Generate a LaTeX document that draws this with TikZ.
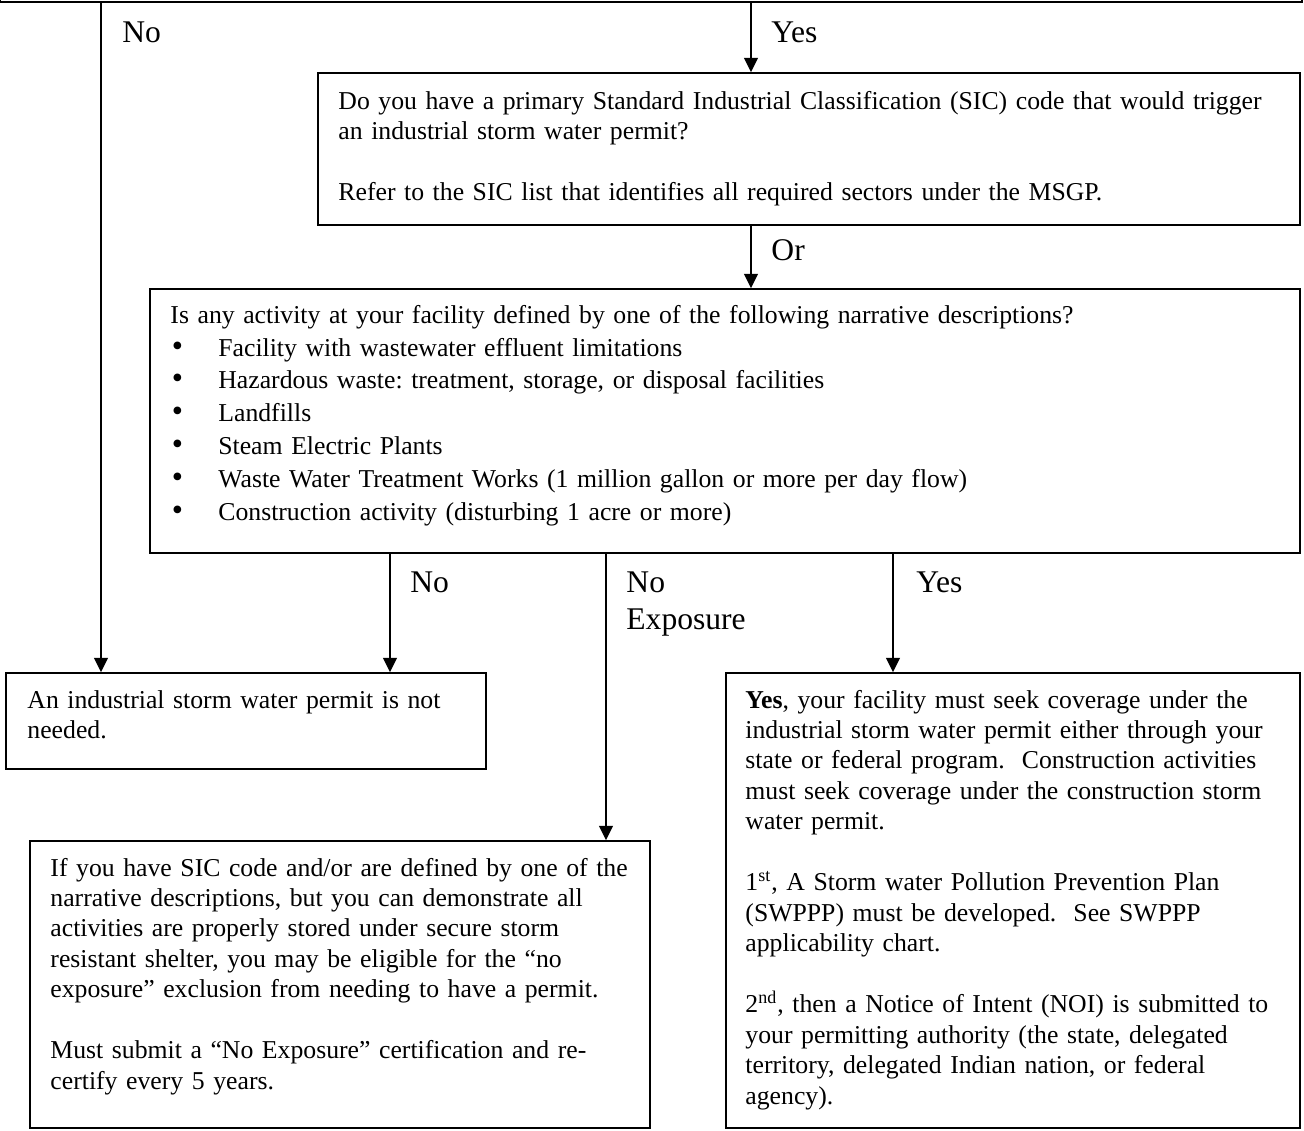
\documentclass[tikz,border=0pt]{standalone}
\usepackage{fontspec}
\setmainfont{Liberation Serif}
\usetikzlibrary{arrows.meta,fit}
\newcommand{\bul}{\makebox[21.7pt][l]{\hspace{0.6pt}{\fontsize{14.5}{14.94}\selectfont •}}}
\frenchspacing
\begin{document}
\begin{tikzpicture}[x=0.4528pt,y=-0.4528pt,
  box/.style={draw,line width=0.75pt,inner sep=0pt},
  arr/.style={-{Triangle[length=6.5pt,width=6.3pt]},line width=0.75pt},
  txt/.style={anchor=base west,inner sep=0pt,text width=600pt,align=left,
    font=\fontsize{11.65}{13.8}\selectfont\frenchspacing},
  lbl/.style={anchor=base west,inner sep=0pt,text width=80pt,align=left,
    font=\fontsize{14.3}{17.2}\selectfont}]
\useasboundingbox (0,0) rectangle (1304,1130);

% boxes
\node[box,fit={(0,-40) (1302,2)}] (top) {};
\node[box,fit={(318,73) (1300,225)}] (sic) {};
\node[box,fit={(150,289) (1300,553)}] (narr) {};
\node[box,fit={(6,673) (486,769)}] (nn) {};
\node[box,fit={(30,841) (650,1128)}] (noexp) {};
\node[box,fit={(726,673) (1300,1128)}] (yes) {};

% connector x positions
\coordinate (xL) at (101,0);
\coordinate (xY) at (751,0);
\coordinate (xN) at (390,0);
\coordinate (xE) at (606,0);
\coordinate (xS) at (893,0);

\draw[arr] (top.south -| xL) -- (nn.north -| xL);
\draw[arr] (top.south -| xY) -- (sic.north -| xY);
\draw[arr] (sic.south -| xY) -- (narr.north -| xY);
\draw[arr] (narr.south -| xN) -- (nn.north -| xN);
\draw[arr] (narr.south -| xE) -- (noexp.north -| xE);
\draw[arr] (narr.south -| xS) -- (yes.north -| xS);

% connector labels
\node[lbl] (l1) at (122,42) {No};
\node[lbl] (l2) at (771,42) {Yes};
\node[lbl] (l3) at (771,260) {Or};
\node[lbl] (l4) at (410,592) {No};
\node[lbl] (l5) at (626,592) {No\\Exposure};
\node[lbl] (l6) at (916,592) {Yes};

% texts
\node[txt] (tsic) at (338,109) {Do you have a primary Standard Industrial Classification (SIC) code that would trigger\\
an industrial storm water permit?\\[13.8pt]
Refer to the SIC list that identifies all required sectors under the MSGP.};

\node[txt,font=\fontsize{11.65}{14.94}\selectfont\frenchspacing] (tnarr) at (170,323) {Is any activity at your facility defined by one of the following narrative descriptions?\\
\bul Facility with wastewater effluent limitations\\
\bul Hazardous waste: treatment, storage, or disposal facilities\\
\bul Landfills\\
\bul Steam Electric Plants\\
\bul Waste Water Treatment Works (1 million gallon or more per day flow)\\
\bul Construction activity (disturbing 1 acre or more)};

\node[txt] (tnn) at (27,708) {An industrial storm water permit is not\\
needed.};

\node[txt] (tnoexp) at (50,876) {If you have SIC code and/or are defined by one of the\\
narrative descriptions, but you can demonstrate all\\
activities are properly stored under secure storm\\
resistant shelter, you may be eligible for the “no\\
exposure” exclusion from needing to have a permit.\\[13.8pt]
Must submit a “No Exposure” certification and re-\\
certify every 5 years.};

\node[txt] (tyes) at (745,708) {\textbf{Yes}, your facility must seek coverage under the\\
industrial storm water permit either through your\\
state or federal program.\ \ Construction activities\\
must seek coverage under the construction storm\\
water permit.\\[13.8pt]
1\textsuperscript{st}, A Storm water Pollution Prevention Plan\\
(SWPPP) must be developed.\ \ See SWPPP\\
applicability chart.\\[13.8pt]
2\textsuperscript{nd}, then a Notice of Intent (NOI) is submitted to\\
your permitting authority (the state, delegated\\
territory, delegated Indian nation, or federal\\
agency).};
\end{tikzpicture}
\end{document}
